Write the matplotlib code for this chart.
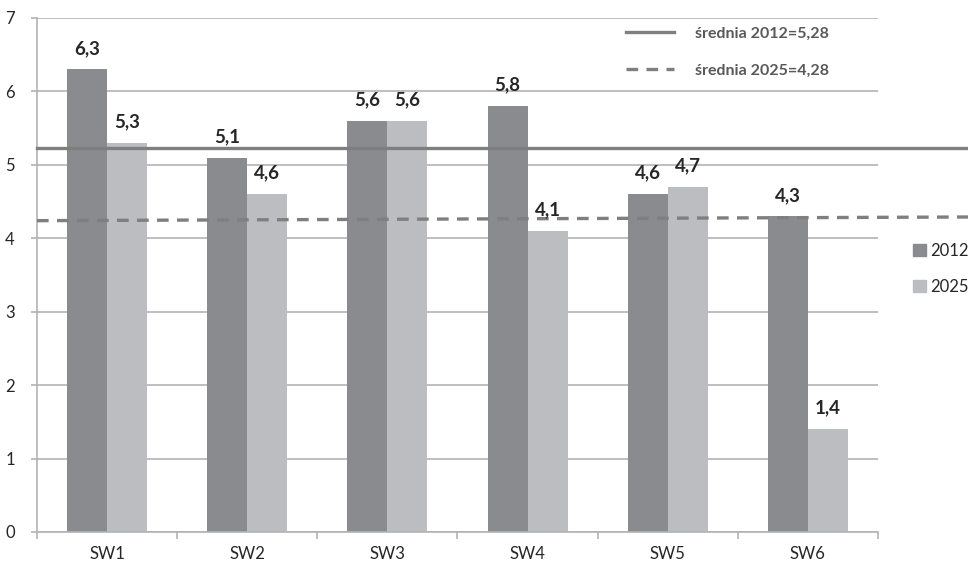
import matplotlib
matplotlib.use("Agg")
import matplotlib.pyplot as plt
from matplotlib.lines import Line2D
from matplotlib.patches import Patch
import numpy as np

categories = ["SW1", "SW2", "SW3", "SW4", "SW5", "SW6"]
values_2012 = [6.3, 5.1, 5.6, 5.8, 4.6, 4.3]
values_2025 = [5.3, 4.6, 5.6, 4.1, 4.7, 1.4]
labels_2012 = ["6,3", "5,1", "5,6", "5,8", "4,6", "4,3"]
labels_2025 = ["5,3", "4,6", "5,6", "4,1", "4,7", "1,4"]
avg_2012_line = [5.23, 5.23]   # drawn position (left, right)
avg_2025_line = [4.24, 4.29]   # drawn position (left, right)
avg_labels = ["średnia 2012=5,28", "średnia 2025=4,28"]
series_names = ["2012", "2025"]

c2012 = "#8a8b8f"
c2025 = "#bcbdc1"
cline = "#7f7f7f"
grid_c = "#b3b3b3"
txt_c = "#262626"

plt.rcParams['font.family'] = ['Lato', 'DejaVu Sans']

fig = plt.figure(figsize=(9.68, 5.65), dpi=100)
ax = fig.add_axes([37/968, 1-532/565, 841/968, (532-18)/565])

x = np.arange(len(categories))
w = 40/140
ax.bar(x - w/2, values_2012, w, color=c2012, zorder=2)
ax.bar(x + w/2, values_2025, w, color=c2025, zorder=2)

for xs, vals, labs in ((x - w/2, values_2012, labels_2012), (x + w/2, values_2025, labels_2025)):
    for xi, v, lab in zip(xs, vals, labs):
        ax.annotate(lab, (xi, v), xytext=(0, 9), textcoords="offset points",
                    ha="center", va="bottom", fontsize=13.5, fontweight="bold",
                    color=txt_c, zorder=5)

ax.set_xlim(-0.5, len(categories) - 0.5)
ax.set_ylim(0, 7)
ax.set_yticks(range(0, 8))
ax.set_yticklabels([str(i) for i in range(0, 8)])
ax.yaxis.grid(True, color=grid_c, linewidth=1.2, zorder=0)
ax.set_axisbelow(True)

ax.set_xticks(x)
ax.set_xticklabels(categories)
ax.set_xticks(np.arange(-0.5, len(categories)), minor=True)
ax.tick_params(axis="x", which="major", length=0, pad=10, labelsize=12, labelcolor=txt_c)
ax.tick_params(axis="x", which="minor", length=5, width=1.2, color=grid_c)
ax.tick_params(axis="y", length=4, width=1.2, color=grid_c, labelsize=12, labelcolor=txt_c, pad=12)

for s in ["top", "right"]:
    ax.spines[s].set_visible(False)
for s in ["left", "bottom"]:
    ax.spines[s].set_color(grid_c)
    ax.spines[s].set_linewidth(1.2)

tr = ax.get_yaxis_transform()
xr = (968 - 37) / 841
ax.plot([0, xr], avg_2012_line, color=cline, lw=2.4, transform=tr, clip_on=False, zorder=3)
ax.plot([0, xr], avg_2025_line, color=cline, lw=2.4, linestyle=(0, (3.5, 2.5)),
        transform=tr, clip_on=False, zorder=3)

h_lines = [Line2D([], [], color=cline, lw=2.4),
           Line2D([], [], color=cline, lw=2.4, linestyle=(0, (3.5, 2.5)))]
leg1 = fig.legend(h_lines, avg_labels, loc="upper left",
                  bbox_to_anchor=(612/968, 1-12/565), frameon=False,
                  handlelength=3.0, handletextpad=1.3, labelspacing=1.45,
                  prop={"family": ["Lato", "DejaVu Sans"], "weight": "bold", "size": 11.5})
for t in leg1.get_texts():
    t.set_color("#595959")

h_bars = [Patch(color=c2012), Patch(color=c2025)]
leg2 = fig.legend(h_bars, series_names, loc="upper left",
                  bbox_to_anchor=(898/968, 1-228/565), frameon=False,
                  handlelength=0.75, handleheight=0.75, handletextpad=0.3, labelspacing=1.2,
                  prop={"family": ["Lato", "DejaVu Sans"], "size": 12})
for t in leg2.get_texts():
    t.set_color(txt_c)

fig.savefig("out.png", dpi=100)
